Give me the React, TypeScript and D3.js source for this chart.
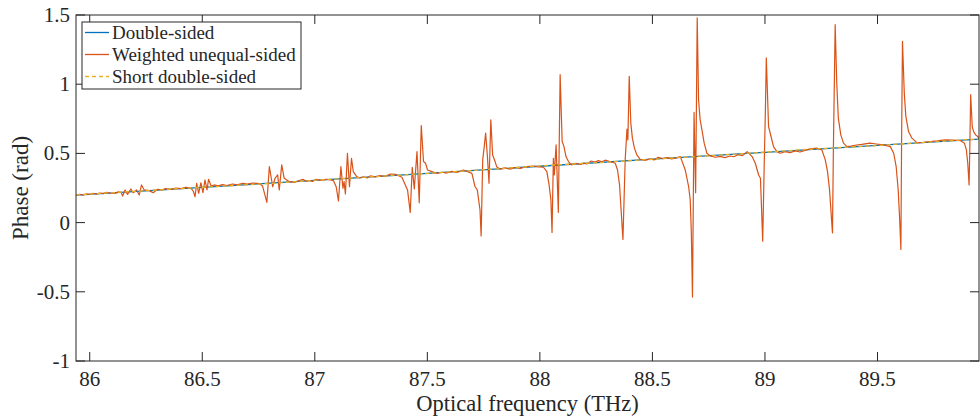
import React from 'react';
import { scaleLinear, line } from 'd3';

// x ticks / y ticks
const xTicks = [86, 86.5, 87, 87.5, 88, 88.5, 89, 89.5];
const yTicks = [-1, -0.5, 0, 0.5, 1, 1.5];
const legendLabels = ['Double-sided', 'Weighted unequal-sided', 'Short double-sided'];

// Double-sided (smooth)
const doubleSided: [number, number][] = [
  [85.939, 0.198], [86.5, 0.254], [87, 0.305], [87.5, 0.356], [88, 0.407],
  [88.5, 0.458], [89, 0.508], [89.5, 0.558], [89.951, 0.603],
];

// Short double-sided (dashed, close to the double-sided one)
const shortDoubleSided: [number, number][] = [
  [85.939, 0.2], [86.2, 0.226], [86.5, 0.255], [86.8, 0.283], [87.1, 0.316],
  [87.4, 0.345], [87.7, 0.376], [88.0, 0.41], [88.3, 0.437], [88.6, 0.468],
  [88.9, 0.498], [89.2, 0.53], [89.5, 0.557], [89.8, 0.589], [89.951, 0.604],
];

// Weighted unequal-sided, resonance by resonance
const weighted: [number, number][] = [
  [85.939, 0.199], [85.955, 0.205], [85.97, 0.199], [85.985, 0.207], [86.0, 0.203], [86.015, 0.212], [86.03, 0.206],
  [86.045, 0.214], [86.06, 0.209], [86.075, 0.218], [86.09, 0.213], [86.115, 0.212], [86.125, 0.222],
  [86.139, 0.219], [86.146, 0.192], [86.157, 0.236], [86.168, 0.204], [86.183, 0.243], [86.193, 0.216], [86.208, 0.236],
  [86.22, 0.199], [86.23, 0.272], [86.242, 0.236], [86.264, 0.231], [86.282, 0.216], [86.301, 0.241],
  [86.32, 0.236], [86.338, 0.245], [86.36, 0.24], [86.383, 0.25], [86.405, 0.245], [86.428, 0.255],
  [86.45, 0.248], [86.46, 0.228], [86.468, 0.187], [86.475, 0.284], [86.484, 0.212], [86.494, 0.288], [86.503, 0.216],
  [86.512, 0.308], [86.521, 0.236], [86.528, 0.313], [86.539, 0.264], [86.553, 0.272], [86.57, 0.265], [86.59, 0.274],
  [86.61, 0.268], [86.634, 0.279], [86.655, 0.273], [86.68, 0.284], [86.7, 0.278], [86.724, 0.286], [86.753, 0.282],
  [86.768, 0.264],
  [86.787, 0.146], [86.798, 0.404], [86.813, 0.259], [86.823, 0.32], [86.835, 0.344], [86.842, 0.236], [86.853, 0.417],
  [86.864, 0.32], [86.887, 0.296], [86.909, 0.291], [86.928, 0.302], [86.947, 0.313], [86.962, 0.298], [86.976, 0.304],
  [86.99, 0.298], [87.006, 0.313], [87.025, 0.305], [87.043, 0.31],
  [87.054, 0.313], [87.083, 0.303], [87.095, 0.259], [87.105, 0.156], [87.116, 0.404], [87.125, 0.248], [87.13, 0.296],
  [87.136, 0.207], [87.145, 0.501], [87.154, 0.259], [87.163, 0.465], [87.171, 0.368], [87.186, 0.332], [87.2, 0.322],
  [87.216, 0.331], [87.232, 0.322], [87.246, 0.337], [87.268, 0.33], [87.29, 0.339], [87.312, 0.333], [87.335, 0.351],
  [87.358, 0.349], [87.387, 0.328], [87.412, 0.236], [87.424, 0.074], [87.433, 0.4], [87.442, 0.243], [87.454, 0.513],
  [87.464, 0.143], [87.473, 0.701], [87.483, 0.441], [87.492, 0.429], [87.501, 0.38], [87.52, 0.368], [87.542, 0.356],
  [87.565, 0.364], [87.587, 0.358], [87.61, 0.37], [87.631, 0.362], [87.66, 0.38],
  [87.698, 0.356], [87.712, 0.259], [87.722, 0.236], [87.734, 0.091], [87.739, -0.096], [87.746, 0.453], [87.752, 0.538],
  [87.759, 0.646], [87.767, 0.477], [87.774, 0.284], [87.782, 0.743], [87.79, 0.489], [87.801, 0.441], [87.808, 0.404],
  [87.823, 0.386], [87.845, 0.395], [87.868, 0.386], [87.89, 0.398], [87.912, 0.392], [87.94, 0.404], [87.971, 0.409],
  [87.995, 0.402],
  [88.016, 0.4], [88.031, 0.368], [88.041, 0.272], [88.049, 0.163], [88.054, -0.071], [88.06, 0.465], [88.064, 0.344],
  [88.072, 0.562], [88.082, 0.074], [88.09, 1.069], [88.099, 0.586], [88.107, 0.549], [88.116, 0.477], [88.127, 0.441],
  [88.141, 0.417], [88.16, 0.428], [88.179, 0.42], [88.195, 0.43], [88.209, 0.424], [88.228, 0.445], [88.245, 0.438],
  [88.26, 0.448], [88.275, 0.44], [88.29, 0.451], [88.304, 0.445],
  [88.335, 0.429], [88.345, 0.38], [88.354, 0.272], [88.36, 0.114], [88.369, -0.122], [88.379, 0.453], [88.387, 0.675],
  [88.391, 0.598], [88.397, 1.057], [88.404, 0.719], [88.411, 0.61], [88.42, 0.538], [88.431, 0.489], [88.445, 0.458],
  [88.467, 0.45], [88.489, 0.46], [88.508, 0.453], [88.526, 0.472], [88.545, 0.462], [88.563, 0.47], [88.585, 0.461],
  [88.607, 0.468],
  [88.624, 0.477], [88.646, 0.38], [88.661, 0.259], [88.668, 0.163], [88.673, -0.076], [88.678, -0.538], [88.685, 0.796],
  [88.692, 0.216], [88.699, 1.48], [88.705, 0.888], [88.712, 0.743], [88.72, 0.67], [88.73, 0.574], [88.742, 0.501],
  [88.757, 0.482], [88.78, 0.472], [88.801, 0.478], [88.822, 0.47], [88.845, 0.481], [88.862, 0.476], [88.88, 0.49],
  [88.9, 0.484],
  [88.921, 0.513], [88.943, 0.477], [88.957, 0.429], [88.972, 0.344], [88.98, 0.32], [88.99, -0.134], [88.997, 0.441],
  [89.002, 0.815], [89.006, 1.19], [89.016, 0.694], [89.027, 0.622], [89.038, 0.549], [89.053, 0.513], [89.068, 0.501],
  [89.09, 0.512], [89.112, 0.505], [89.134, 0.518], [89.156, 0.51], [89.178, 0.522], [89.2, 0.533],
  [89.231, 0.538], [89.253, 0.525], [89.268, 0.453], [89.278, 0.368], [89.287, 0.236], [89.293, 0.091], [89.3, -0.074],
  [89.304, 0.525], [89.312, 1.431], [89.319, 1.009], [89.326, 0.755], [89.337, 0.634], [89.349, 0.574], [89.364, 0.549],
  [89.382, 0.553], [89.4, 0.559], [89.43, 0.565], [89.466, 0.574], [89.495, 0.568],
  [89.527, 0.562], [89.557, 0.549], [89.572, 0.501], [89.583, 0.404], [89.592, 0.236], [89.598, 0.042], [89.604, -0.194],
  [89.607, 0.574], [89.611, 1.31], [89.619, 0.936], [89.626, 0.767], [89.638, 0.658], [89.653, 0.61], [89.675, 0.578],
  [89.705, 0.58], [89.734, 0.586], [89.765, 0.59], [89.8, 0.598], [89.835, 0.596],
  [89.868, 0.593], [89.886, 0.574], [89.895, 0.525], [89.901, 0.429], [89.907, 0.272], [89.91, 0.525], [89.914, 0.924],
  [89.921, 0.694], [89.927, 0.658], [89.936, 0.634], [89.945, 0.622], [89.951, 0.61],
];

const BLUE = '#0072BD', ORANGE = '#D95319', YELLOW = '#EDB120', AX = '#262626';
const FONT = 'Liberation Serif, Times New Roman, DejaVu Serif, serif';

export default function App() {
  const width = 980, height = 420;
  const left = 76, right = 979, top = 15, bottom = 361;
  const tickLen = 9;

  const x = scaleLinear().domain([85.939, 89.951]).range([left, right]);
  const y = scaleLinear().domain([-1, 1.5]).range([bottom, top]);
  const path = line<[number, number]>().x((d) => x(d[0])).y((d) => y(d[1]));

  const legendColors = [BLUE, ORANGE, YELLOW];

  return (
    <svg width={width} height={height} style={{ position: 'absolute', left: 0, top: 0, fontFamily: FONT }}>
      <defs>
        <clipPath id="plot-clip">
          <rect x={left} y={top} width={right - left} height={bottom - top} />
        </clipPath>
      </defs>
      <rect x={0} y={0} width={width} height={height} fill="#fff" />

      <g clipPath="url(#plot-clip)" fill="none" strokeLinejoin="round">
        <path d={path(doubleSided) || ''} stroke={BLUE} strokeWidth={1.3} />
        <path d={path(weighted) || ''} stroke={ORANGE} strokeWidth={1.2} />
        <path d={path(shortDoubleSided) || ''} stroke={YELLOW} strokeWidth={1.3} strokeDasharray="4,3" />
      </g>

      {/* box */}
      <rect x={left} y={top} width={right - left} height={bottom - top} fill="none" stroke={AX} strokeWidth={1} />

      {xTicks.map((t) => (
        <g key={'x' + t}>
          <line x1={x(t)} x2={x(t)} y1={bottom} y2={bottom - tickLen} stroke={AX} />
          <line x1={x(t)} x2={x(t)} y1={top} y2={top + tickLen} stroke={AX} />
          <text x={x(t)} y={bottom + 25} textAnchor="middle" fontSize={21} fill={AX}>
            {String(t)}
          </text>
        </g>
      ))}
      {yTicks.map((t) => (
        <g key={'y' + t}>
          <line x1={left} x2={left + tickLen} y1={y(t)} y2={y(t)} stroke={AX} />
          <line x1={right} x2={right - tickLen} y1={y(t)} y2={y(t)} stroke={AX} />
          <text x={left - 6} y={y(t)} dy="0.33em" textAnchor="end" fontSize={21} fill={AX}>
            {String(t)}
          </text>
        </g>
      ))}

      <text x={(left + right) / 2} y={411} textAnchor="middle" fontSize={22.5} fill={AX}>
        Optical frequency (THz)
      </text>
      <text transform={`translate(28,${(top + bottom) / 2}) rotate(-90)`} textAnchor="middle" fontSize={23} fill={AX}>
        Phase (rad)
      </text>

      {/* legend */}
      <g>
        <rect x={82} y={22} width={219} height={67} fill="#fff" stroke={AX} strokeWidth={1} />
        {legendLabels.map((lab, i) => {
          const cy = 32.5 + i * 22;
          return (
            <g key={lab}>
              <line x1={85} x2={109} y1={cy} y2={cy} stroke={legendColors[i]} strokeWidth={1.3}
                strokeDasharray={i === 2 ? '4,3' : undefined} />
              <text x={112} y={cy + 6} fontSize={19} fill={AX}>{lab}</text>
            </g>
          );
        })}
      </g>
    </svg>
  );
}
